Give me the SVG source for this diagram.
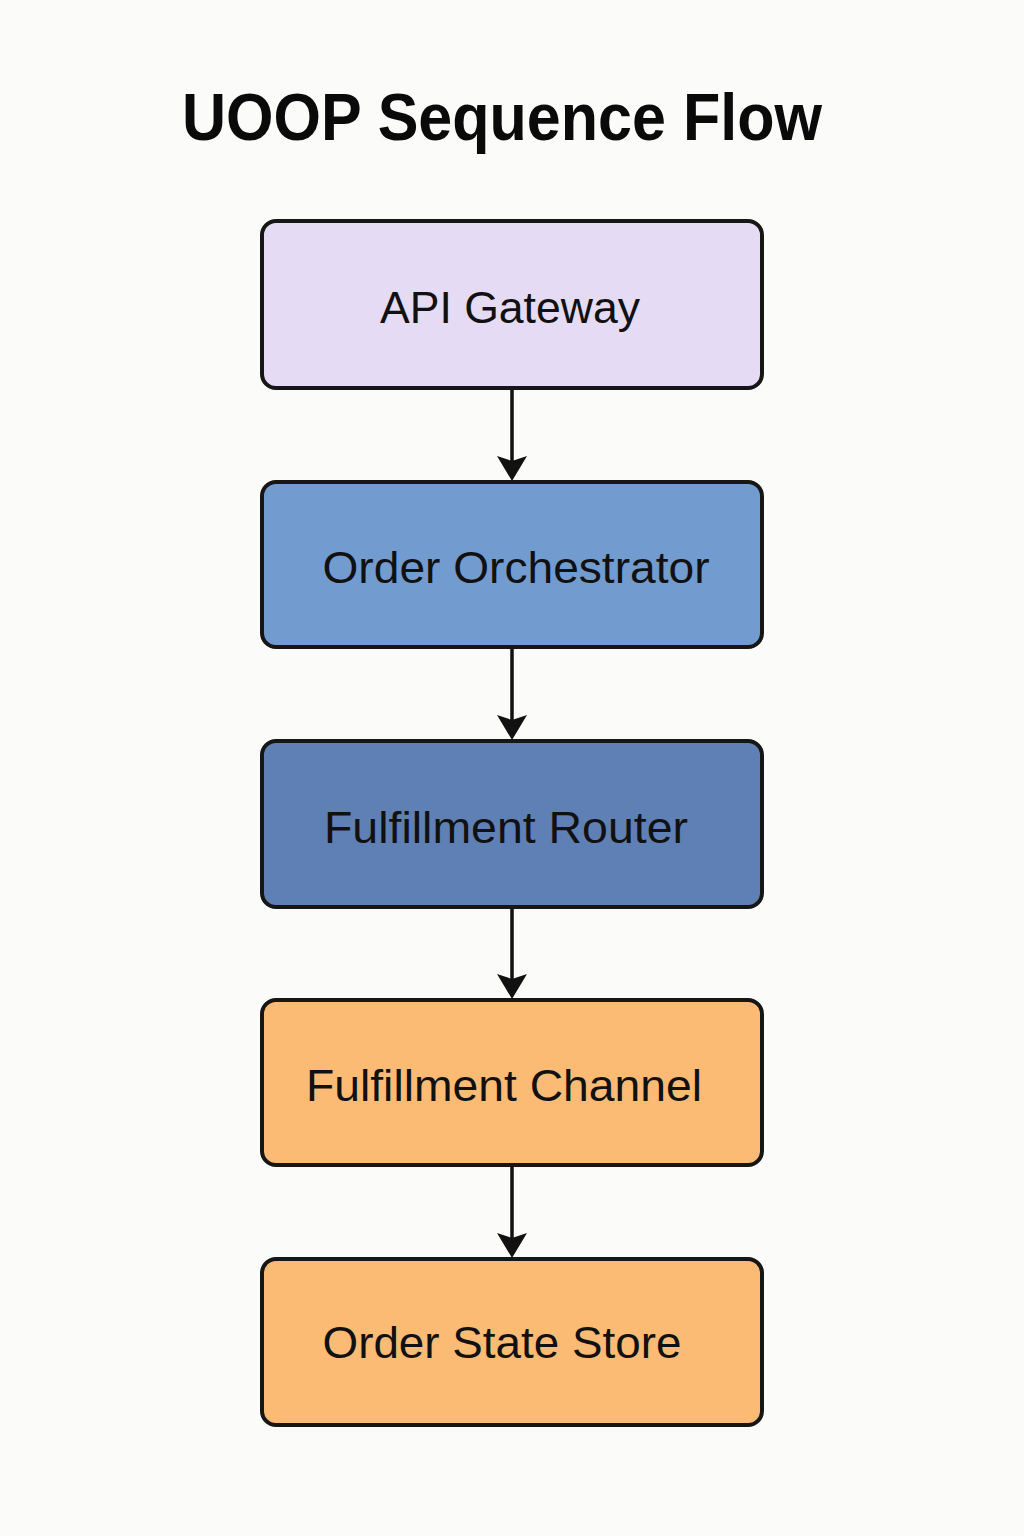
<svg xmlns="http://www.w3.org/2000/svg" width="1024" height="1536" viewBox="0 0 1024 1536">
<style>
.box{stroke:#161616;stroke-width:4}
.lbl{font-family:"Liberation Sans",Arial,sans-serif;font-size:45px;fill:#111;text-anchor:middle}
.title{font-family:"Liberation Sans",Arial,sans-serif;font-size:66px;font-weight:bold;fill:#0a0a0a;text-anchor:middle}
.conn line{stroke:#111;stroke-width:3.5}
.conn path{fill:#111}
</style>
<rect width="1024" height="1536" fill="#fbfbfa"/>
<text class="title" x="502" y="140" textLength="640" lengthAdjust="spacingAndGlyphs">UOOP Sequence Flow</text>
<g id="api-gateway">
<rect class="box" x="262" y="221" width="500" height="167" rx="14" fill="#e6dbf5"/>
<text class="lbl" x="510" y="323" textLength="260" lengthAdjust="spacingAndGlyphs">API Gateway</text>
</g>
<g id="order-orchestrator">
<rect class="box" x="262" y="482" width="500" height="165" rx="14" fill="#729bcf"/>
<text class="lbl" x="516" y="583" textLength="387" lengthAdjust="spacingAndGlyphs">Order Orchestrator</text>
</g>
<g id="fulfillment-router">
<rect class="box" x="262" y="741" width="500" height="166" rx="14" fill="#5f80b4"/>
<text class="lbl" x="506" y="843" textLength="364" lengthAdjust="spacingAndGlyphs">Fulfillment Router</text>
</g>
<g id="fulfillment-channel">
<rect class="box" x="262" y="1000" width="500" height="165" rx="14" fill="#fbbb75"/>
<text class="lbl" x="504" y="1101" textLength="396" lengthAdjust="spacingAndGlyphs">Fulfillment Channel</text>
</g>
<g id="order-state-store">
<rect class="box" x="262" y="1259" width="500" height="166" rx="14" fill="#fbbb75"/>
<text class="lbl" x="502" y="1358" textLength="359" lengthAdjust="spacingAndGlyphs">Order State Store</text>
</g>
<g class="conn" id="connectors">
<line x1="512" y1="390" x2="512" y2="462"/>
<path d="M497 456 L512 461 L527 456 L512 481 Z"/>
<line x1="512" y1="649" x2="512" y2="721"/>
<path d="M497 715 L512 720 L527 715 L512 740 Z"/>
<line x1="512" y1="909" x2="512" y2="980"/>
<path d="M497 974 L512 979 L527 974 L512 999 Z"/>
<line x1="512" y1="1167" x2="512" y2="1239"/>
<path d="M497 1233 L512 1238 L527 1233 L512 1258 Z"/>
</g>
</svg>
